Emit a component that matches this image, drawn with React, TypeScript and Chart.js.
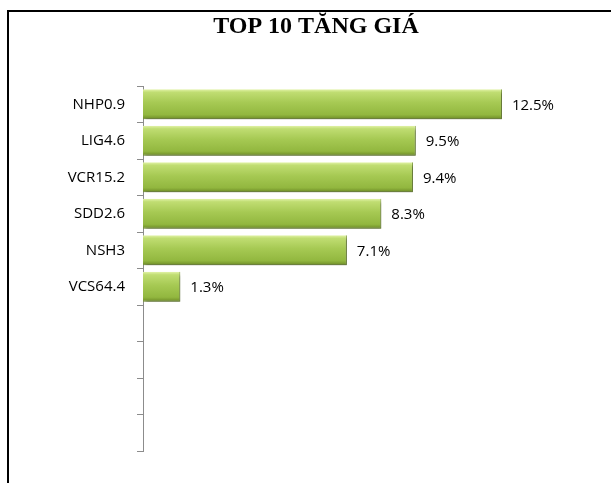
import React, { useEffect, useRef } from "react";
import { Chart, registerables } from "chart.js";

Chart.register(...registerables);

const TITLE = "TOP 10 TĂNG GIÁ";
const categories = ["NHP0.9", "LIG4.6", "VCR15.2", "SDD2.6", "NSH3", "VCS64.4", "", "", "", ""];
const values: (number | null)[] = [12.5, 9.5, 9.4, 8.3, 7.1, 1.3, null, null, null, null];
const X_MAX = 14;

const BAR_PCT = 0.82;

const shadowAndLabels = {
  id: "shadowAndLabels",
  afterLayout(chart: any) {
    const t = chart.titleBlock;
    if (t) {
      t.left = 21;
      t.right = chart.width;
    }
  },
  beforeDatasetsDraw(chart: any) {
    const ctx = chart.ctx;
    ctx.save();
    ctx.shadowColor = "rgba(0,0,0,0.35)";
    ctx.shadowOffsetX = 2;
    ctx.shadowOffsetY = 3;
    ctx.shadowBlur = 3;
  },
  afterDatasetsDraw(chart: any) {
    const ctx = chart.ctx;
    ctx.restore();
    const meta = chart.getDatasetMeta(0);
    ctx.save();
    ctx.font = "15px 'Open Sans'";
    ctx.fillStyle = "#000";
    ctx.textAlign = "left";
    ctx.textBaseline = "middle";
    meta.data.forEach((el: any, i: number) => {
      const v = values[i];
      if (v == null) return;
      const { x, y } = el.getProps(["x", "y"], true);
      ctx.fillText(v.toFixed(1) + "%", x + 10, y + 1);
    });
    ctx.restore();
  },
};

function barFill(context: any) {
  const chart = context.chart;
  const yScale = chart.scales && chart.scales.y;
  const fallback = "#a2c650";
  if (!yScale || context.dataIndex == null) return fallback;
  const yc = yScale.getPixelForValue(context.dataIndex);
  const band = (yScale.bottom - yScale.top) / categories.length;
  const h = band * BAR_PCT;
  if (!isFinite(yc) || !isFinite(h) || h <= 0) return fallback;
  const g = chart.ctx.createLinearGradient(0, yc - h / 2, 0, yc + h / 2);
  g.addColorStop(0, "#e2f3a8");
  g.addColorStop(0.1, "#c0dd72");
  g.addColorStop(0.45, "#a6c953");
  g.addColorStop(0.85, "#92b73f");
  g.addColorStop(1, "#6c8a26");
  return g;
}

export default function App() {
  const ref = useRef<HTMLCanvasElement | null>(null);
  useEffect(() => {
    if (!ref.current) return;
    const chart = new Chart(ref.current, {
      type: "bar",
      data: {
        labels: categories,
        datasets: [
          {
            data: values as any,
            backgroundColor: barFill as any,
            borderColor: "#7a9a30",
            borderWidth: { top: 0, right: 1, bottom: 1, left: 0 } as any,
            borderSkipped: "start",
            barPercentage: BAR_PCT,
            categoryPercentage: 1,
          },
        ],
      },
      options: {
        indexAxis: "y",
        animation: false,
        responsive: false,
        layout: { padding: { left: 0, right: 66, top: 0, bottom: 32 } },
        plugins: {
          legend: { display: false },
          tooltip: { enabled: false },
          title: {
            display: true,
            text: TITLE,
            color: "#000",
            font: { family: "'Liberation Serif', 'Times New Roman', serif", size: 24, weight: "bold", lineHeight: 1.2 },
            padding: { top: 12.5, bottom: 44.7 },
          },
        },
        scales: {
          x: {
            display: false,
            min: 0,
            max: X_MAX,
          },
          y: {
            afterFit: (s: any) => {
              s.width = 143;
            },
            border: { display: true, color: "#8c8c8c", width: 1 },
            grid: {
              display: true,
              drawOnChartArea: false,
              drawTicks: true,
              tickLength: 6,
              color: "#8c8c8c",
              offset: true,
            },
            ticks: {
              color: "#000",
              padding: 12,
              font: { family: "'Open Sans'", size: 15 },
              autoSkip: false,
            },
          },
        },
      },
      plugins: [shadowAndLabels],
    });
    return () => chart.destroy();
  }, []);

  return (
    <div style={{ position: "fixed", left: 0, top: 0, width: 611, height: 483, background: "#fff" }}>
      <div
        style={{
          position: "absolute",
          left: 7,
          top: 10,
          width: 604,
          height: 473,
          borderTop: "2px solid #000",
          borderLeft: "2px solid #000",
          boxSizing: "border-box",
        }}
      />
      <canvas ref={ref} width={611} height={483} style={{ position: "absolute", left: 0, top: 0, display: "block" }} />
    </div>
  );
}
